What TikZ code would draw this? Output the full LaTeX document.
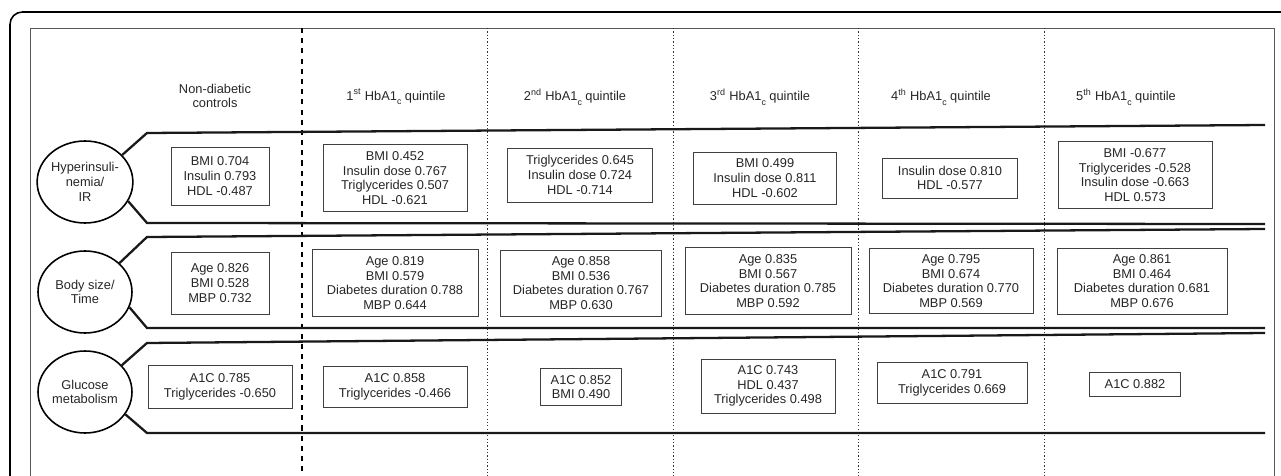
\documentclass[tikz,border=0pt]{standalone}
\usepackage{fontspec}
\setmainfont{Liberation Sans}
\usepackage{xcolor}
\usepackage{tikz}
\usetikzlibrary{shapes.geometric,positioning,calc}

\begin{document}
\begin{tikzpicture}[
    x=0.02cm, y=-0.02cm,
    txt/.style={font=\fontsize{7.3}{8.4}\selectfont, text=black!85, align=center, inner sep=0pt},
    factor/.style={ellipse, draw, line width=0.9pt, minimum width=1.88cm, minimum height=1.64cm, txt},
    load/.style 2 args={rectangle, draw=black!75, line width=0.5pt, txt, minimum width=#1*0.02cm, minimum height=#2*0.02cm},
    band/.style={line width=1.3pt, black!90},
    sep/.style={line width=1.5pt, dash pattern=on 2.9pt off 2.9pt},
    grp/.style={line width=0.5pt, black!80, dash pattern=on 0.7pt off 1.2pt}
]
    \clip (0,0) rectangle (1281,476);

    % Frames
    \draw[line width=0.9pt, rounded corners=7pt] (10,12) rectangle (1300,520);
    \draw[line width=0.5pt, black!65] (30,28) rectangle (1274,520);

    % Column separators
    \draw[sep] (302,28) -- (302,520);
    \foreach \x in {487,673,858,1044}
        \draw[grp] (\x,28) -- (\x,520);

    % Column headings
    \node[txt] at (215,96) (hnd) {Non-diabetic\\controls};
    \node[txt] at (396,97) (hq1) {1\textsuperscript{st} HbA1\raisebox{-0.7ex}{\tiny c} quintile};
    \node[txt] at (575,97) (hq2) {2\textsuperscript{nd} HbA1\raisebox{-0.7ex}{\tiny c} quintile};
    \node[txt] at (760,97) (hq3) {3\textsuperscript{rd} HbA1\raisebox{-0.7ex}{\tiny c} quintile};
    \node[txt] at (941,97) (hq4) {4\textsuperscript{th} HbA1\raisebox{-0.7ex}{\tiny c} quintile};
    \node[txt] at (1126,97) (hq5) {5\textsuperscript{th} HbA1\raisebox{-0.7ex}{\tiny c} quintile};

    % Factors
    \node[factor] at (85,182) (hyp) {Hyperinsuli-\\nemia/\\IR};
    \node[factor] at (85,292) (body) {Body size/\\Time};
    \node[factor] at (85,392) (gluc) {Glucose\\metabolism};

    % Bands
    \draw[band] (1265,125) -- (147,133) -- (hyp.36);
    \draw[band] (hyp.-24) -- (147,223) -- (1265,224);
    \draw[band] (1265,229) -- (147,237) -- (body.40);
    \draw[band] (body.-19) -- (147,328) -- (1265,328);
    \draw[band] (1265,333) -- (147,343) -- (gluc.36);
    \draw[band] (gluc.-29) -- (147,433) -- (1265,433);

    % Loadings: hyperinsulinemia/IR
    \node[load={98}{58}] at (220,176) (hnd1) {BMI 0.704\\Insulin 0.793\\HDL -0.487};
    \node[load={144}{67}] at (395,178) (hq11) {BMI 0.452\\Insulin dose 0.767\\Triglycerides 0.507\\HDL -0.621};
    \node[load={145}{54}] at (580,175) (hq21) {Triglycerides 0.645\\Insulin dose 0.724\\HDL -0.714};
    \node[load={143}{52}] at (765,178) (hq31) {BMI 0.499\\Insulin dose 0.811\\HDL -0.602};
    \node[load={135}{40}] at (950,178) (hq41) {Insulin dose 0.810\\HDL -0.577};
    \node[load={154}{67}] at (1135,175) (hq51) {BMI -0.677\\Triglycerides -0.528\\Insulin dose -0.663\\HDL 0.573};

    % Loadings: body size/time
    \node[load={98}{62}] at (220,283) (hnd2) {Age 0.826\\BMI 0.528\\MBP 0.732};
    \node[load={166}{67}] at (395,283) (hq12) {Age 0.819\\BMI 0.579\\Diabetes duration 0.788\\MBP 0.644};
    \node[load={161}{66}] at (581,283) (hq22) {Age 0.858\\BMI 0.536\\Diabetes duration 0.767\\MBP 0.630};
    \node[load={166}{67}] at (768,281) (hq32) {Age 0.835\\BMI 0.567\\Diabetes duration 0.785\\MBP 0.592};
    \node[load={164}{65}] at (951,281) (hq42) {Age 0.795\\BMI 0.674\\Diabetes duration 0.770\\MBP 0.569};
    \node[load={170}{66}] at (1142,281) (hq52) {Age 0.861\\BMI 0.464\\Diabetes duration 0.681\\MBP 0.676};

    % Loadings: glucose metabolism
    \node[load={144}{43}] at (220,387) (hnd3) {A1C 0.785\\Triglycerides -0.650};
    \node[load={144}{41}] at (395,387) (hq13) {A1C 0.858\\Triglycerides -0.466};
    \node[load={81}{37}] at (581,387) (hq23) {A1C 0.852\\BMI 0.490};
    \node[load={134}{54}] at (768,386) (hq33) {A1C 0.743\\HDL 0.437\\Triglycerides 0.498};
    \node[load={150}{41}] at (952,383) (hq43) {A1C 0.791\\Triglycerides 0.669};
    \node[load={91}{24}] at (1135,384) (hq53) {A1C 0.882};

\end{tikzpicture}
\end{document}
